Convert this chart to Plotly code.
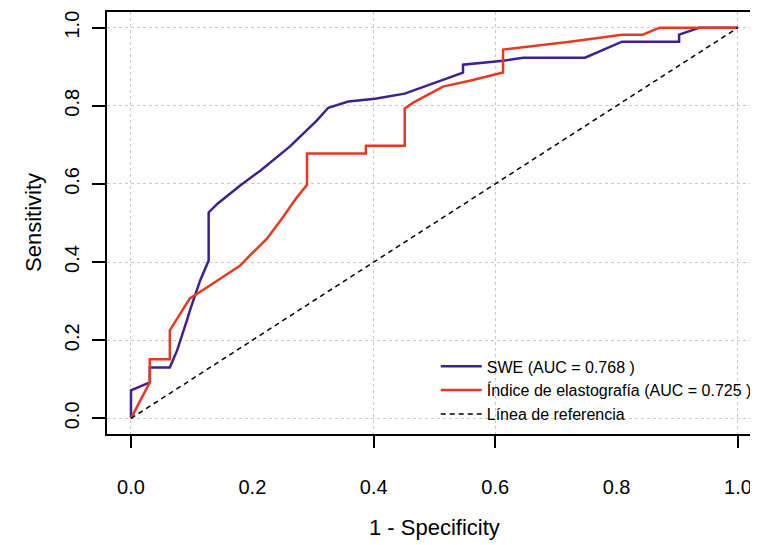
import plotly.graph_objects as go

# ---- data ----
swe_fpr = [0, 0, 0.031, 0.031, 0.064, 0.076, 0.092, 0.097, 0.114, 0.128, 0.128, 0.143, 0.18, 0.213,
           0.262, 0.306, 0.325, 0.358, 0.402, 0.451, 0.547, 0.547, 0.613, 0.646, 0.748, 0.809,
           0.903, 0.903, 0.937, 1.0]
swe_tpr = [0, 0.072, 0.092, 0.13, 0.13, 0.174, 0.25, 0.276, 0.353, 0.404, 0.527, 0.55, 0.596, 0.634,
           0.696, 0.762, 0.795, 0.811, 0.818, 0.831, 0.885, 0.905, 0.915, 0.923, 0.923, 0.964,
           0.964, 0.982, 1.0, 1.0]

ie_fpr = [0, 0.031, 0.031, 0.064, 0.064, 0.081, 0.097, 0.13, 0.18, 0.196, 0.224, 0.25, 0.273, 0.29,
          0.29, 0.387, 0.387, 0.451, 0.451, 0.465, 0.514, 0.558, 0.613, 0.613, 0.723, 0.809,
          0.843, 0.871, 1.0]
ie_tpr = [0, 0.092, 0.151, 0.151, 0.225, 0.268, 0.307, 0.34, 0.391, 0.417, 0.46, 0.514, 0.565, 0.598,
          0.678, 0.678, 0.698, 0.698, 0.793, 0.808, 0.849, 0.864, 0.885, 0.944, 0.964, 0.982,
          0.982, 1.0, 1.0]

ref_x = [0, 1]
ref_y = [0, 1]

series_names = ["SWE (AUC = 0.768 )",
                "Índice de elastografía (AUC = 0.725 )",
                "Línea de referencia"]

x_tick_vals = [0, 0.2, 0.4, 0.6, 0.8, 1.0]
x_tick_text = ["0.0", "0.2", "0.4", "0.6", "0.8", "1.0"]
x_mark_vals = [0, 0.4, 0.6, 1.0]          # ticks / vertical grid drawn only here
y_tick_vals = [0, 0.2, 0.4, 0.6, 0.8, 1.0]
y_tick_text = ["0.0", "0.2", "0.4", "0.6", "0.8", "1.0"]

x_title = "1 - Specificity"
y_title = "Sensitivity"

FONT = "Liberation Sans, Arial, sans-serif"
PURPLE = "#3d2193"
RED = "#e63a1f"
GRID = "#c8c8c8"

fig = go.Figure()
fig.add_trace(go.Scatter(x=swe_fpr, y=swe_tpr, mode="lines", name=series_names[0],
                         line=dict(color=PURPLE, width=2.5)))
fig.add_trace(go.Scatter(x=ie_fpr, y=ie_tpr, mode="lines", name=series_names[1],
                         line=dict(color=RED, width=2.5)))
fig.add_trace(go.Scatter(x=ref_x, y=ref_y, mode="lines", name=series_names[2],
                         xaxis="x2", yaxis="y",
                         line=dict(color="black", width=1.5, dash="5px,4px")))

xr = [-0.0395, 1.033]
yr = [-0.04, 1.04]

# the page body adds an 8px offset, so the figure is 750x537 and margins are reduced by 8
fig.update_layout(
    width=750, height=537,
    margin=dict(l=99, r=0, t=4, b=111),
    paper_bgcolor="white", plot_bgcolor="white",
    font=dict(family=FONT, color="black", size=20),
    showlegend=True,
    legend=dict(x=0.505, y=0.2005, xanchor="left", yanchor="top",
                bgcolor="rgba(0,0,0,0)", borderwidth=0,
                font=dict(size=16, family=FONT), tracegroupgap=0, itemwidth=41),
    xaxis=dict(range=xr, tickvals=x_tick_vals, ticktext=x_tick_text, ticks="",
               showgrid=False, zeroline=False, showline=True, linecolor="black",
               linewidth=2, mirror=True, ticklabelstandoff=34, automargin=False,
               tickfont=dict(size=20)),
    xaxis2=dict(range=xr, overlaying="x", anchor="y", side="bottom",
                tickvals=x_mark_vals, ticks="outside", ticklen=13, tickwidth=1.5,
                tickcolor="black", showticklabels=False, automargin=False,
                showgrid=True, gridcolor=GRID, griddash="dot", gridwidth=1,
                zeroline=False, showline=False),
    yaxis=dict(range=yr, tickvals=y_tick_vals, ticktext=y_tick_text, ticks="outside",
               ticklen=13, tickwidth=1.5, tickcolor="black", tickangle=-90,
               showgrid=True, gridcolor=GRID, griddash="dot", gridwidth=1,
               zeroline=False, showline=True, linecolor="black", linewidth=2,
               mirror=False, ticklabelstandoff=5, automargin=False,
               tickfont=dict(size=20)),
)

fig.add_annotation(text=y_title, xref="paper", yref="paper", x=0, y=0.5,
                   xanchor="center", yanchor="middle", xshift=-74, textangle=-90,
                   showarrow=False, font=dict(size=22, family=FONT))
fig.add_annotation(text=x_title, xref="x", yref="paper", x=0.5, y=0,
                   xanchor="center", yanchor="middle", yshift=-93,
                   showarrow=False, font=dict(size=22, family=FONT))

fig.write_html("out.html")
